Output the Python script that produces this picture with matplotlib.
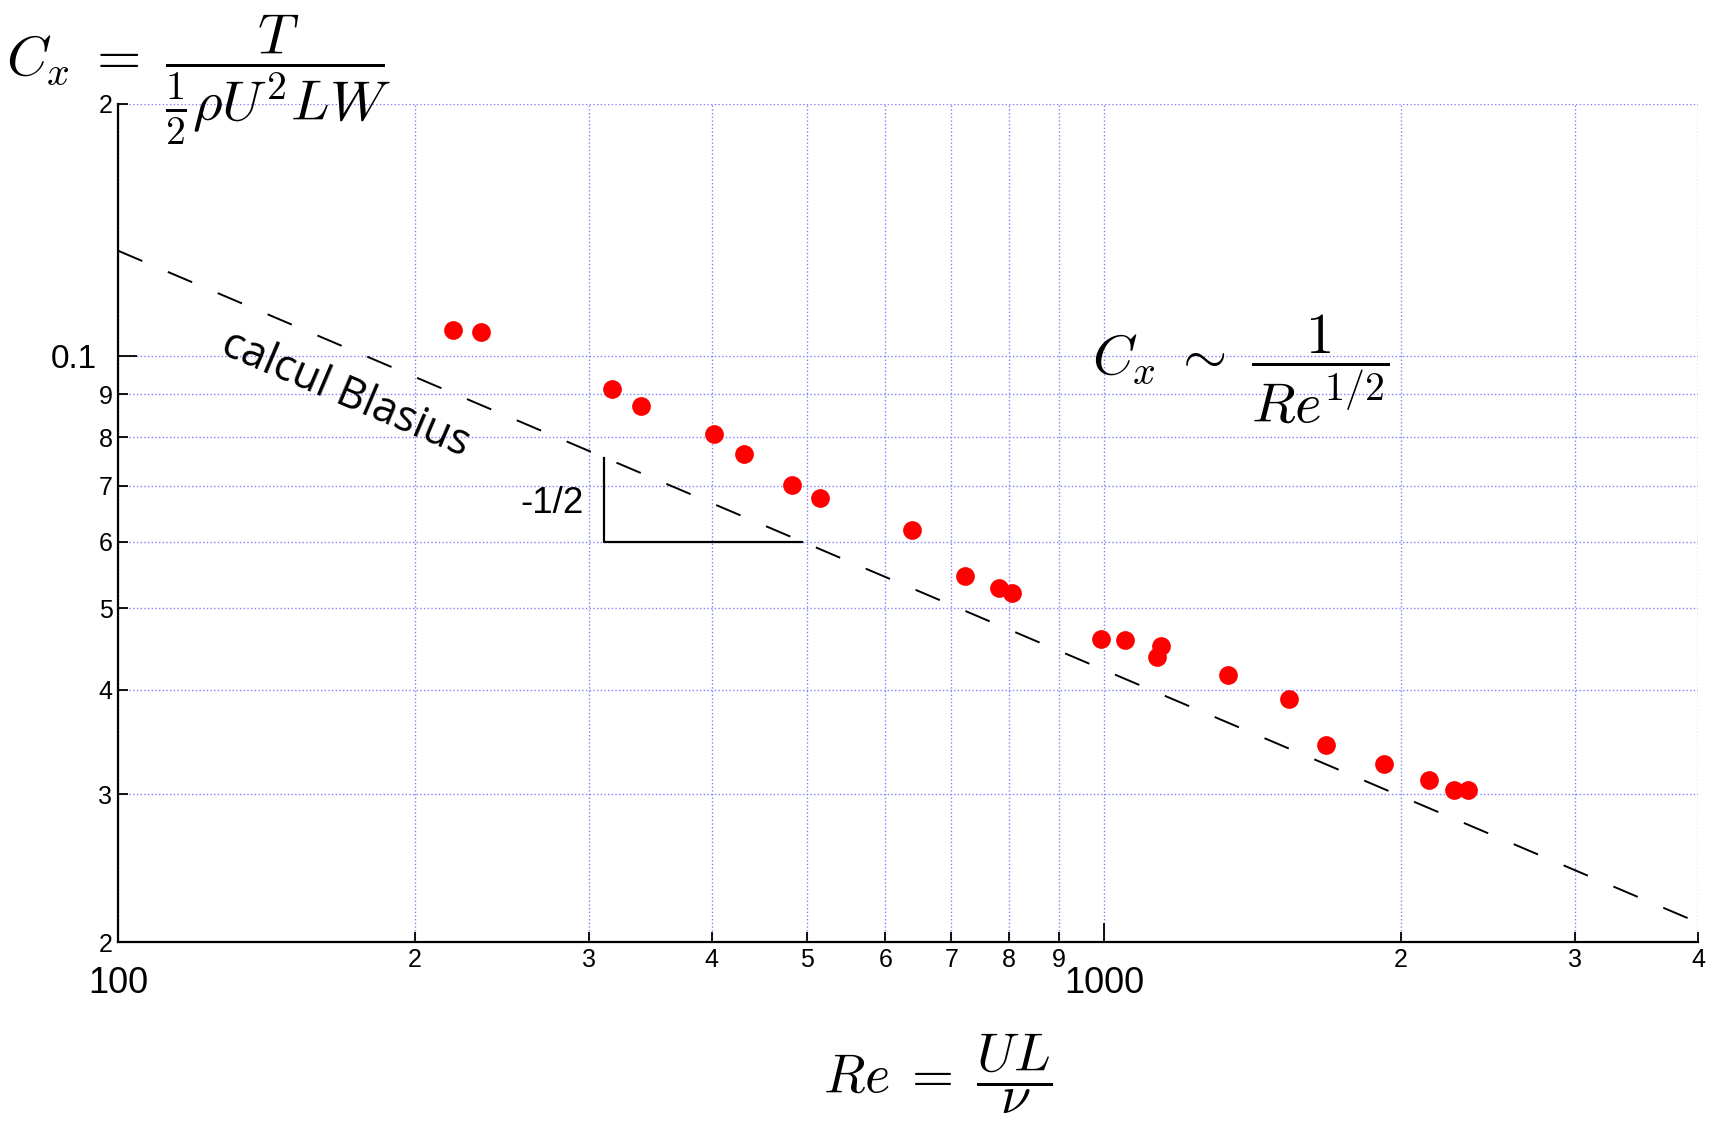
import matplotlib
matplotlib.use("Agg")
import matplotlib.pyplot as plt
from matplotlib.ticker import FixedLocator, FixedFormatter

plt.rcParams['mathtext.fontset'] = 'cm'
plt.rcParams['lines.scale_dashes'] = False

# ---- data ----
Re_data = [218.6, 233.4, 317.1, 339.1, 402.5, 431.0, 482.4, 515.0, 638.9, 723.0,
           782.7, 806.4, 992.0, 1049.0, 1141.0, 1132.0, 1334.0, 1541.0, 1679.0,
           1920.0, 2133.0, 2262.0, 2337.0]
Cx_data = [0.1073, 0.1068, 0.0913, 0.0872, 0.0806, 0.0764, 0.0702, 0.0677, 0.0620,
           0.0546, 0.0528, 0.0521, 0.0459, 0.0458, 0.0451, 0.0437, 0.0416, 0.0390,
           0.0344, 0.0326, 0.0312, 0.0304, 0.0304]

# Blasius line endpoints
Re_blasius = [100, 4000]
Cx_blasius = [0.1335, 0.0211]

# slope triangle vertices
Re_triangle = [311, 311, 494]
Cx_triangle = [0.0755, 0.0600, 0.0600]

x_major_ticks = [100, 1000]
x_major_labels = ['100', '1000']
x_minor_ticks = [200, 300, 400, 500, 600, 700, 800, 900, 2000, 3000, 4000]
x_minor_labels = ['2', '3', '4', '5', '6', '7', '8', '9', '2', '3', '4']
y_major_ticks = [0.1]
y_major_labels = ['0.1']
y_minor_ticks = [0.02, 0.03, 0.04, 0.05, 0.06, 0.07, 0.08, 0.09, 0.2]
y_minor_labels = ['2', '3', '4', '5', '6', '7', '8', '9', '2']

W, H = 1709, 1128
fig = plt.figure(figsize=(W / 100, H / 100), dpi=100)
ax = fig.add_axes([118 / W, 1 - 942 / H, (1698 - 118) / W, (942 - 103.5) / H])
ax.set_xscale('log')
ax.set_yscale('log')
ax.set_xlim(100, 4000)
ax.set_ylim(0.02, 0.2)

ax.xaxis.set_major_locator(FixedLocator(x_major_ticks))
ax.xaxis.set_major_formatter(FixedFormatter(x_major_labels))
ax.xaxis.set_minor_locator(FixedLocator(x_minor_ticks))
ax.xaxis.set_minor_formatter(FixedFormatter(x_minor_labels))
ax.yaxis.set_major_locator(FixedLocator(y_major_ticks))
ax.yaxis.set_major_formatter(FixedFormatter(y_major_labels))
ax.yaxis.set_minor_locator(FixedLocator(y_minor_ticks))
ax.yaxis.set_minor_formatter(FixedFormatter(y_minor_labels))

ax.tick_params(axis='both', which='both', direction='in', color='black', width=1.3)
ax.tick_params(which='major', length=13.7)
ax.tick_params(which='minor', length=7.2)
ax.tick_params(axis='x', which='minor', pad=4, labelsize=18)
ax.tick_params(axis='x', which='major', pad=17, labelsize=26)
ax.tick_params(axis='y', which='minor', pad=4, labelsize=18)
ax.tick_params(axis='y', which='major', pad=15, labelsize=24)
for lab in ax.get_xticklabels(which='both') + ax.get_yticklabels(which='both'):
    lab.set_family(['Liberation Sans', 'DejaVu Sans'])

ax.grid(True, which='both', color='#8080ff', linestyle=':', linewidth=1.0)
ax.set_axisbelow(True)

for s in ['top', 'right']:
    ax.spines[s].set_visible(False)
for s in ['left', 'bottom']:
    ax.spines[s].set_linewidth(1.6)
    ax.spines[s].set_color('black')

ax.plot(Re_blasius, Cx_blasius, color='black', lw=1.4, dashes=(19, 20), zorder=2)
ax.plot(Re_triangle, Cx_triangle, color='black', lw=1.6, zorder=2)
ax.plot(Re_data, Cx_data, 'o', color='red', markersize=13.5, markeredgewidth=0,
        zorder=3, clip_on=False)

ax.text(170, 0.0900, 'calcul Blasius', rotation=-23, rotation_mode='anchor',
        ha='center', va='center', fontsize=31, family=['Open Sans', 'DejaVu Sans'])
ax.text(275.5, 0.0667, '-1/2', ha='center', va='center', fontsize=26.5,
        family=['Liberation Sans', 'DejaVu Sans'])

fig.text(6 / W, 1 - 76 / H, r'$C_x\;=\;\dfrac{T}{\frac{1}{2}\rho U^2 LW}$',
         fontsize=41, ha='left', va='baseline')
fig.text(1092 / W, 1 - 375 / H, r'$C_x\;\sim\;\dfrac{1}{Re^{1/2}}$',
         fontsize=41, ha='left', va='baseline')
fig.text(823 / W, 1 - 1093 / H, r'$Re\;=\;\dfrac{UL}{\nu}$',
         fontsize=39, ha='left', va='baseline')

fig.savefig('out.png', dpi=100)
